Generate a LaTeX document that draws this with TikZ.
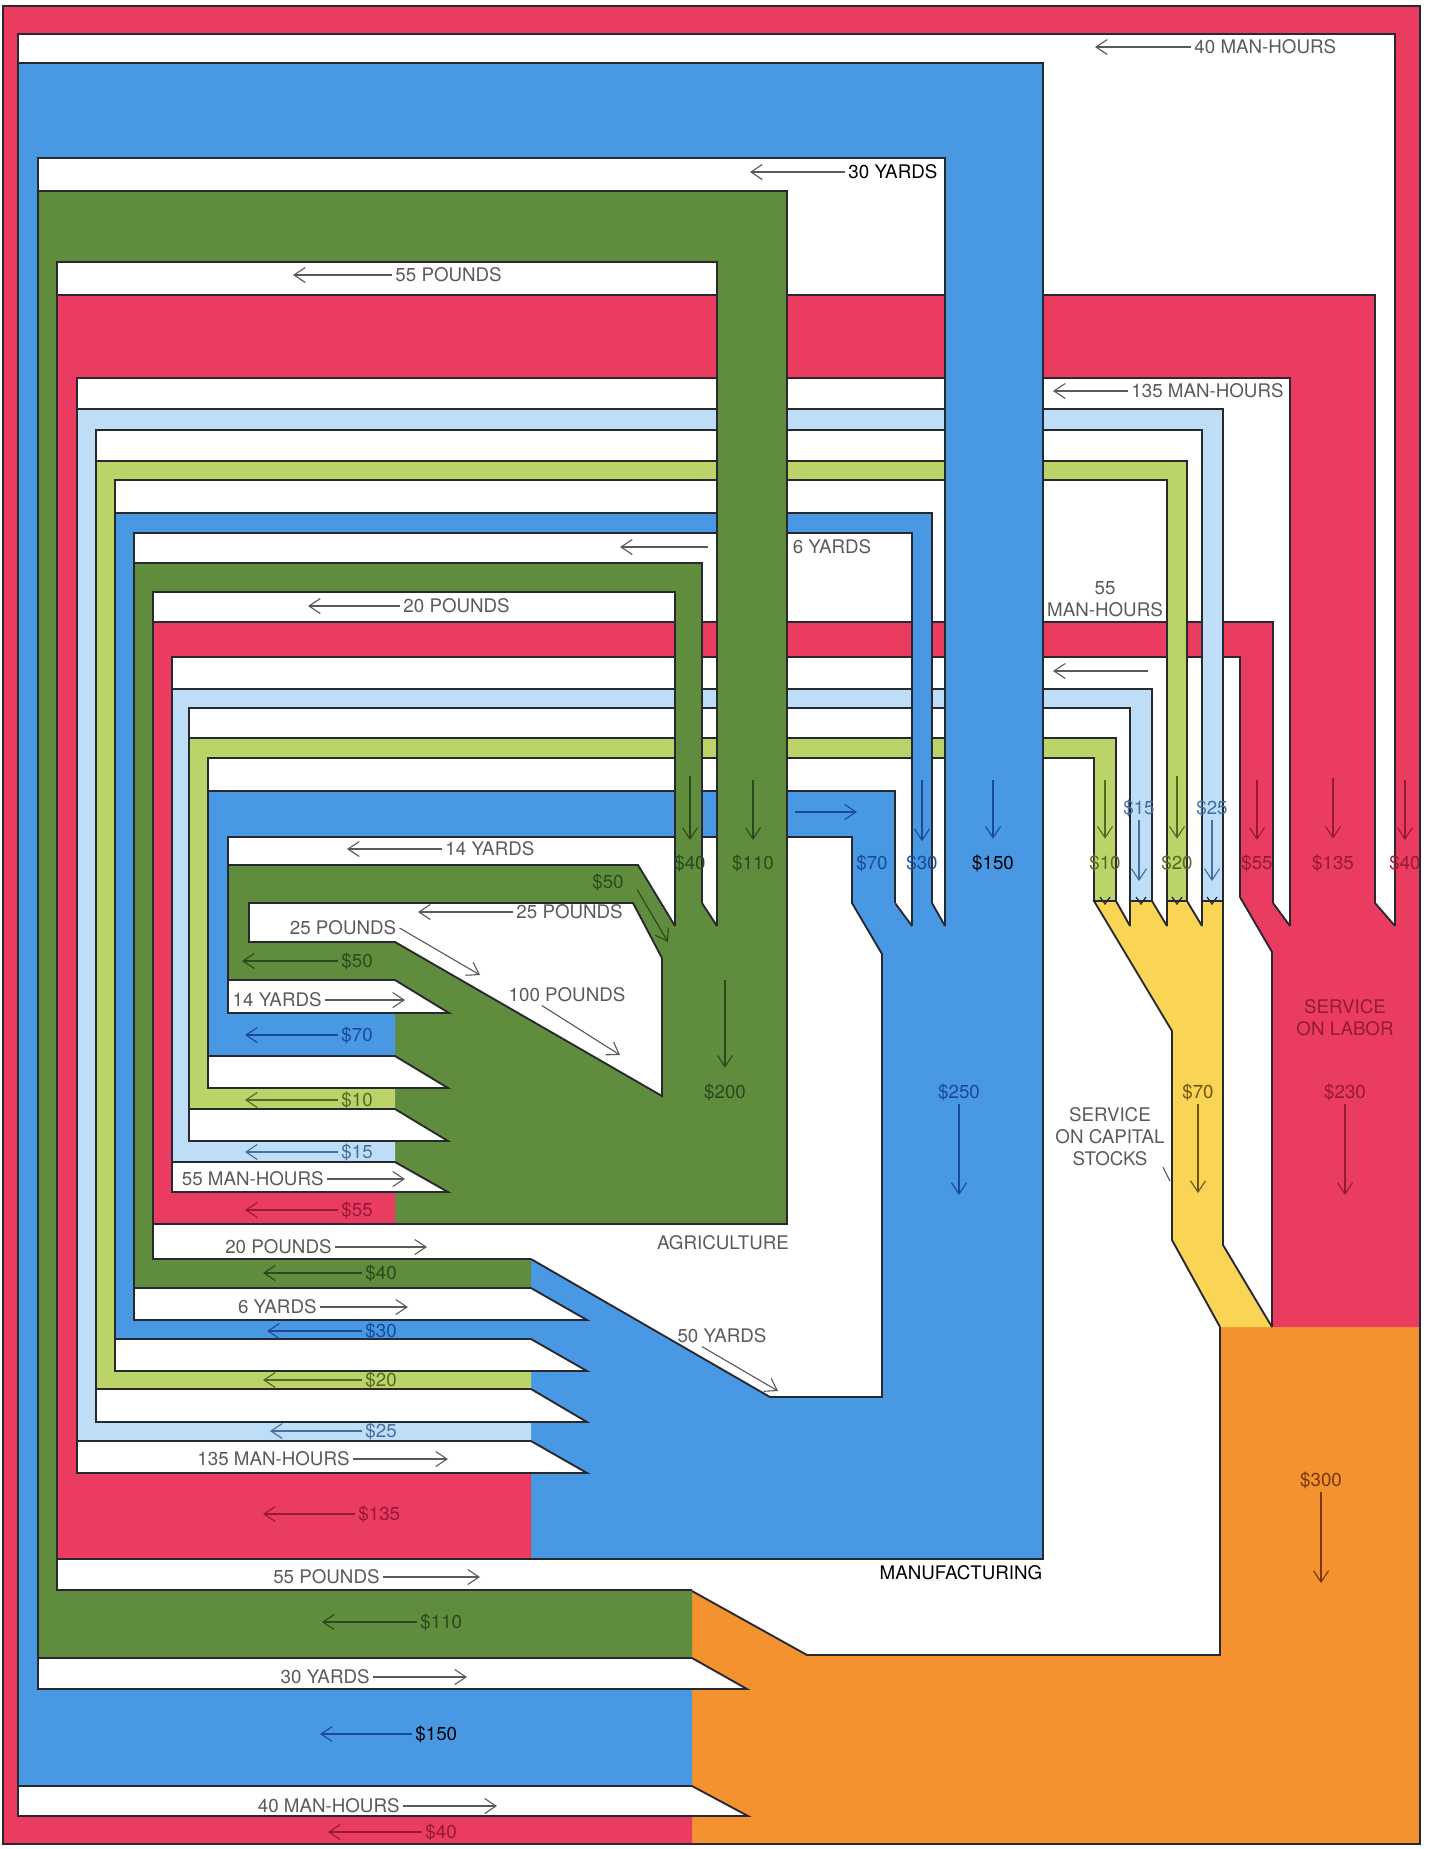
\documentclass[tikz,border=0pt]{standalone}
\usepackage{fontspec}
\setmainfont{TeX Gyre Heros}
\usepackage{tikz}
\usetikzlibrary{arrows.meta}
\tikzset{every picture/.style={line width=0.75pt}}

\definecolor{bandred}{RGB}{234,60,96}
\definecolor{bandblue}{RGB}{72,152,228}
\definecolor{bandgreen}{RGB}{96,140,62}
\definecolor{bandlblue}{RGB}{190,222,248}
\definecolor{bandlgreen}{RGB}{186,212,106}
\definecolor{bandyellow}{RGB}{250,212,84}
\definecolor{bandorange}{RGB}{244,146,48}
\definecolor{edgegray}{RGB}{40,40,48}
\definecolor{txtgray}{RGB}{90,90,90}
\definecolor{txtred}{RGB}{150,25,55}
\definecolor{txtblue}{RGB}{25,75,150}
\definecolor{txtgreen}{RGB}{40,75,30}
\definecolor{txtlblue}{RGB}{70,110,160}
\definecolor{txtlgreen}{RGB}{85,105,35}
\definecolor{txtyellow}{RGB}{110,85,20}
\definecolor{txtorange}{RGB}{120,55,10}

\tikzset{
  outline/.style={draw=edgegray, line width=0.75pt, line join=miter, miter limit=3},
  cutband/.style={fill=white, draw=edgegray, line width=0.75pt},
  tickmark/.style={draw=edgegray, line width=0.5pt},
  lbl/.style={font=\fontsize{7.5}{8.8}\selectfont, text=#1, inner sep=1pt},
  lbl/.default=txtgray,
  arr/.style={draw=#1, line width=0.45pt, -{Straight Barb[length=4.5pt,width=6pt]}},
  arr/.default=txtgray,
}

\begin{document}
\begin{tikzpicture}[x=0.4pt,y=-0.4pt]
\useasboundingbox (0,0) rectangle (1432,1849);

%Shape: households (orange)
\fill[bandorange] (692,1591) -- (807,1655) -- (1220,1655) -- (1220,1327) -- (1420,1327) -- (1420,1844) -- (692,1844) -- cycle ;
\draw[outline] (692,1591) -- (807,1655) -- (1220,1655) -- (1220,1327) ;
\draw[outline] (1420,1327) -- (1420,1844) -- (692,1844) ;

%Shape: service on capital stocks (yellow)
\filldraw[fill=bandyellow, outline] (1220,1327) -- (1172,1240) -- (1172,1031) -- (1094,901) -- (1116,901) -- (1130,926) -- (1130,901) -- (1152,901) -- (1167,926) -- (1167,901) -- (1187,901) -- (1202,926) -- (1202,901) -- (1223,901) -- (1223,1245) -- (1272,1327) ;

%Shape: service on labor (red)
\fill[bandred] (1240,897) -- (1273,897) -- (1273,903) -- (1290,926) -- (1290,897) -- (1375,897) -- (1375,903) -- (1395,926) -- (1395,897) -- (1420,897) -- (1420,1327) -- (1272,1327) -- (1272,952) -- cycle ;
\draw[outline] (1273,903) -- (1290,926) ;
\draw[outline] (1375,903) -- (1395,926) ;

%Shape: manufacturing (blue)
\fill[bandblue] (852,897) -- (895,897) -- (895,903) -- (912,926) -- (912,897) -- (932,897) -- (932,903) -- (945,926) -- (945,897) -- (1043,897) -- (1043,1559) -- (531,1559) -- (531,1259) -- (770,1397) -- (882,1397) -- (882,954) -- (852,903) -- cycle ;
\draw[outline] (895,903) -- (912,926) ;
\draw[outline] (932,903) -- (945,926) ;
\draw[outline] (1043,990) -- (1043,1559) -- (531,1559) ;

%Shape: agriculture (green) with the 25/100 pounds hole
\fill[bandgreen, even odd rule] (228,865) -- (638,865) -- (675,926) -- (675,897) -- (702,897) -- (702,903) -- (717,926) -- (717,897) -- (787,897) -- (787,1224) -- (395,1224) -- (395,980) -- (228,980) -- cycle
  (249,903) -- (633,903) -- (662,958) -- (662,1096) -- (395,942) -- (249,942) -- cycle ;
\draw[outline] (675,926) -- (638,865) -- (228,865) -- (228,980) -- (395,980) ;
\draw[outline] (249,903) -- (633,903) -- (662,958) -- (662,1096) -- (395,942) -- (249,942) -- cycle ;
\draw[outline] (702,903) -- (717,926) ;
\draw[outline] (787,990) -- (787,1224) -- (395,1224) ;

%Shape: $70 band (blue)
\fill[bandblue] (395,1056) -- (208,1056) -- (208,791) -- (895,791) -- (895,905) -- (852,905) -- (852,837) -- (228,837) -- (228,1013) -- (395,1013) -- cycle ;
\draw[outline] (395,1056) -- (208,1056) -- (208,791) -- (895,791) -- (895,903) ;
\draw[outline] (395,1013) -- (228,1013) -- (228,837) -- (852,837) -- (852,903) -- (882,954) -- (882,1397) -- (770,1397) -- (531,1259) ;

%Shape: $10 band (light green)
\filldraw[fill=bandlgreen, outline] (395,1109) -- (189,1109) -- (189,738) -- (1116,738) -- (1116,901) -- (1094,901) -- (1094,758) -- (208,758) -- (208,1088) -- (395,1088) ;

%Shape: $15 band (light blue)
\filldraw[fill=bandlblue, outline] (395,1162) -- (172,1162) -- (172,689) -- (1152,689) -- (1152,901) -- (1130,901) -- (1130,708) -- (189,708) -- (189,1141) -- (395,1141) ;

%Shape: $55 band (red)
\fill[bandred] (395,1224) -- (153,1224) -- (153,622) -- (1273,622) -- (1273,900) -- (1240,900) -- (1240,657) -- (172,657) -- (172,1192) -- (395,1192) -- cycle ;
\draw[outline] (395,1224) -- (153,1224) -- (153,622) -- (1273,622) -- (1273,903) ;
\draw[outline] (395,1192) -- (172,1192) -- (172,657) -- (1240,657) -- (1240,897) -- (1272,952) -- (1272,1327) ;

%Shape: $40 band (green)
\fill[bandgreen] (531,1288) -- (134,1288) -- (134,563) -- (702,563) -- (702,900) -- (675,900) -- (675,592) -- (153,592) -- (153,1259) -- (531,1259) -- cycle ;
\draw[outline] (531,1288) -- (134,1288) -- (134,563) -- (702,563) -- (702,903) ;
\draw[outline] (531,1259) -- (153,1259) -- (153,592) -- (675,592) -- (675,926) ;

%Shape: $30 band (blue)
\fill[bandblue] (540,1339) -- (115,1339) -- (115,513) -- (932,513) -- (932,900) -- (912,900) -- (912,533) -- (134,533) -- (134,1320) -- (540,1320) -- cycle ;
\draw[outline] (531,1339) -- (115,1339) -- (115,513) -- (932,513) -- (932,903) ;
\draw[outline] (531,1320) -- (134,1320) -- (134,533) -- (912,533) -- (912,926) ;

%Shape: $20 band (light green)
\filldraw[fill=bandlgreen, outline] (531,1389) -- (96,1389) -- (96,461) -- (1187,461) -- (1187,901) -- (1167,901) -- (1167,480) -- (115,480) -- (115,1371) -- (531,1371) ;

%Shape: $25 band (light blue)
\filldraw[fill=bandlblue, outline] (531,1441) -- (77,1441) -- (77,409) -- (1223,409) -- (1223,901) -- (1202,901) -- (1202,430) -- (96,430) -- (96,1422) -- (531,1422) ;

%Shape: $135 band (red)
\fill[bandred] (531,1559) -- (57,1559) -- (57,295) -- (1375,295) -- (1375,900) -- (1290,900) -- (1290,378) -- (77,378) -- (77,1473) -- (531,1473) -- cycle ;
\draw[outline] (531,1559) -- (57,1559) -- (57,295) -- (1375,295) -- (1375,903) ;
\draw[outline] (531,1473) -- (77,1473) -- (77,378) -- (1290,378) -- (1290,926) ;

%Shape: $110 band (green)
\fill[bandgreen] (692,1658) -- (38,1658) -- (38,191) -- (787,191) -- (787,900) -- (717,900) -- (717,262) -- (57,262) -- (57,1590) -- (692,1590) -- cycle ;
\draw[outline] (692,1658) -- (38,1658) -- (38,191) -- (787,191) -- (787,990) ;
\draw[outline] (692,1590) -- (57,1590) -- (57,262) -- (717,262) -- (717,926) ;

%Shape: $150 band (blue)
\fill[bandblue] (692,1786) -- (18,1786) -- (18,63) -- (1043,63) -- (1043,900) -- (945,900) -- (945,158) -- (38,158) -- (38,1689) -- (692,1689) -- cycle ;
\draw[outline] (692,1786) -- (18,1786) -- (18,63) -- (1043,63) -- (1043,990) ;
\draw[outline] (692,1689) -- (38,1689) -- (38,158) -- (945,158) -- (945,926) ;

%Shape: $40 band (red, outer)
\fill[bandred] (692,1844) -- (3,1844) -- (3,6) -- (1420,6) -- (1420,900) -- (1395,900) -- (1395,34) -- (18,34) -- (18,1816) -- (692,1816) -- cycle ;
\draw[outline] (692,1844) -- (3,1844) -- (3,6) -- (1420,6) -- (1420,1327) ;
\draw[outline] (692,1816) -- (18,1816) -- (18,34) -- (1395,34) -- (1395,926) ;

%Shape: slanted ends of the goods and labor bands
\filldraw[cutband] (395,980) -- (449,1013) -- (395,1013) ;
\filldraw[cutband] (395,1056) -- (448,1088) -- (395,1088) ;
\filldraw[cutband] (395,1109) -- (448,1141) -- (395,1141) ;
\filldraw[cutband] (395,1162) -- (448,1192) -- (395,1192) ;
\filldraw[cutband] (531,1288) -- (587,1320) -- (531,1320) ;
\filldraw[cutband] (531,1339) -- (587,1371) -- (531,1371) ;
\filldraw[cutband] (531,1389) -- (587,1422) -- (531,1422) ;
\filldraw[cutband] (531,1441) -- (587,1473) -- (531,1473) ;
\filldraw[cutband] (692,1658) -- (747,1689) -- (692,1689) ;
\filldraw[cutband] (692,1786) -- (748,1816) -- (692,1816) ;

%Straight Lines: ticks where capital payments join
\draw[tickmark] (1100,897) -- (1105,904) -- (1110,897) ;
\draw[tickmark] (1136,897) -- (1141,904) -- (1146,897) ;
\draw[tickmark] (1172,897) -- (1177,904) -- (1182,897) ;
\draw[tickmark] (1207,897) -- (1212,904) -- (1217,897) ;

%Text: physical flows, upper half
\node[lbl, anchor=west] (mh40t) at (1191,47) {40 MAN-HOURS};
\draw[arr] (mh40t.west) -- (1095,47);
\node[lbl=black, anchor=west] (yd30t) at (845,172) {30 YARDS};
\draw[arr] (yd30t.west) -- (750,172);
\node[lbl, anchor=west] (lb55t) at (392,275) {55 POUNDS};
\draw[arr] (lb55t.west) -- (293,275);
\node[lbl, anchor=west] (mh135t) at (1128,391) {135 MAN-HOURS};
\draw[arr] (mh135t.west) -- (1053,391);
\node[lbl] (yd6t) at (832,547) {6 YARDS};
\coordinate (yd6s) at (708,547);
\draw[arr] (yd6s) -- (620,547);
\node[lbl, anchor=west] (lb20t) at (400,606) {20 POUNDS};
\draw[arr] (lb20t.west) -- (308,606);
\node[lbl, align=center] (mh55t) at (1105,599) {55\\MAN-HOURS};
\coordinate (mh55s) at (1148,671);
\draw[arr] (mh55s) -- (1053,671);
\node[lbl, anchor=west] (yd14t) at (442,849) {14 YARDS};
\draw[arr] (yd14t.west) -- (347,849);
\node[lbl, anchor=west] (lb25t) at (513,912) {25 POUNDS};
\draw[arr] (lb25t.west) -- (418,912);
\node[lbl] (lb25s) at (343,928) {25 POUNDS};
\draw[arr] (lb25s.east) -- (480,975);
\node[lbl] (lb100) at (567,995) {100 POUNDS};
\draw[arr] ([xshift=-10pt]lb100.south) -- (620,1055);
\node[lbl] (yd50) at (722,1336) {50 YARDS};
\draw[arr] ([xshift=-8pt]yd50.south) -- (778,1391);

%Text: physical flows, lower half
\node[lbl, anchor=east] (yd14b) at (325,1000) {14 YARDS};
\draw[arr] (yd14b.east) -- (405,1000);
\node[lbl, anchor=east] (mh55b) at (327,1179) {55 MAN-HOURS};
\draw[arr] (mh55b.east) -- (405,1179);
\node[lbl, anchor=east] (lb20b) at (335,1247) {20 POUNDS};
\draw[arr] (lb20b.east) -- (427,1247);
\node[lbl, anchor=east] (yd6b) at (320,1307) {6 YARDS};
\draw[arr] (yd6b.east) -- (408,1307);
\node[lbl, anchor=east] (mh135b) at (353,1459) {135 MAN-HOURS};
\draw[arr] (mh135b.east) -- (448,1459);
\node[lbl, anchor=east] (lb55b) at (383,1577) {55 POUNDS};
\draw[arr] (lb55b.east) -- (480,1577);
\node[lbl, anchor=east] (yd30b) at (373,1677) {30 YARDS};
\draw[arr] (yd30b.east) -- (467,1677);
\node[lbl, anchor=east] (mh40b) at (403,1806) {40 MAN-HOURS};
\draw[arr] (mh40b.east) -- (497,1806);

%Text: money flows on the left
\node[lbl=txtgreen, anchor=west] (d50b) at (338,961) {\$50};
\draw[arr=txtgreen] (d50b.west) -- (242,961);
\node[lbl=txtblue, anchor=west] (d70b) at (338,1035) {\$70};
\draw[arr=txtblue] (d70b.west) -- (245,1035);
\node[lbl=txtlgreen, anchor=west] (d10b) at (338,1100) {\$10};
\draw[arr=txtlgreen] (d10b.west) -- (245,1100);
\node[lbl=txtlblue, anchor=west] (d15b) at (338,1152) {\$15};
\draw[arr=txtlblue] (d15b.west) -- (245,1152);
\node[lbl=txtred, anchor=west] (d55b) at (338,1210) {\$55};
\draw[arr=txtred] (d55b.west) -- (245,1210);
\node[lbl=txtgreen, anchor=west] (d40gb) at (362,1273) {\$40};
\draw[arr=txtgreen] (d40gb.west) -- (263,1273);
\node[lbl=txtblue, anchor=west] (d30b) at (362,1331) {\$30};
\draw[arr=txtblue] (d30b.west) -- (267,1331);
\node[lbl=txtlgreen, anchor=west] (d20b) at (362,1380) {\$20};
\draw[arr=txtlgreen] (d20b.west) -- (263,1380);
\node[lbl=txtlblue, anchor=west] (d25b) at (362,1431) {\$25};
\draw[arr=txtlblue] (d25b.west) -- (270,1431);
\node[lbl=txtred, anchor=west] (d135b) at (355,1514) {\$135};
\draw[arr=txtred] (d135b.west) -- (263,1514);
\node[lbl=txtgreen, anchor=west] (d110b) at (417,1622) {\$110};
\draw[arr=txtgreen] (d110b.west) -- (322,1622);
\node[lbl=black, anchor=west] (d150b) at (412,1734) {\$150};
\draw[arr=txtblue] (d150b.west) -- (320,1734);
\node[lbl=txtred, anchor=west] (d40rb) at (422,1832) {\$40};
\draw[arr=txtred] (d40rb.west) -- (328,1832);

%Text: money flows in the columns
\node[lbl=txtgreen] (d50t) at (608,882) {\$50};
\draw[arr=txtgreen] ([xshift=4pt,yshift=-3pt]d50t.east) -- (668,942);
\node[lbl=txtgreen] (d40gt) at (690,863) {\$40};
\draw[arr=txtgreen, shorten >=4.5pt] (690,776) -- (d40gt.north);
\node[lbl=txtgreen] (d110t) at (753,863) {\$110};
\draw[arr=txtgreen, shorten >=4.5pt] (753,780) -- (d110t.north);
\node[lbl=txtgreen] (d200) at (725,1092) {\$200};
\draw[arr=txtgreen, shorten >=5pt] (725,980) -- (d200.north);
\node[lbl=txtblue] (d70t) at (872,863) {\$70};
\coordinate (d70s) at (795,812);
\draw[arr=txtblue] (d70s) -- (857,812);
\node[lbl=txtblue] (d30t) at (922,863) {\$30};
\draw[arr=txtblue, shorten >=4pt] (922,780) -- (d30t.north);
\node[lbl=black] (d150t) at (993,863) {\$150};
\draw[arr=txtblue, shorten >=5pt] (993,780) -- (d150t.north);
\node[lbl=txtblue] (d250) at (959,1092) {\$250};
\draw[arr=txtblue] (d250.south) -- (959,1195);
\node[lbl=txtlgreen] (d10t) at (1105,863) {\$10};
\draw[arr=txtlgreen, shorten >=5pt] (1105,780) -- (d10t.north);
\node[lbl=txtlblue] (d15t) at (1139,808) {\$15};
\draw[arr=txtlblue] (d15t.south) -- (1139,881);
\node[lbl=txtlgreen] (d20t) at (1177,863) {\$20};
\draw[arr=txtlgreen, shorten >=5pt] (1177,776) -- (d20t.north);
\node[lbl=txtlblue] (d25t) at (1212,808) {\$25};
\draw[arr=txtlblue] (d25t.south) -- (1212,881);
\node[lbl=txtred] (d55t) at (1257,863) {\$55};
\draw[arr=txtred, shorten >=4.5pt] (1257,780) -- (d55t.north);
\node[lbl=txtred] (d135t) at (1333,863) {\$135};
\draw[arr=txtred, shorten >=5pt] (1333,778) -- (d135t.north);
\node[lbl=txtred] (d40rt) at (1405,863) {\$40};
\draw[arr=txtred, shorten >=4.5pt] (1405,780) -- (d40rt.north);
\node[lbl=txtyellow] (d70y) at (1198,1092) {\$70};
\draw[arr=txtyellow] (d70y.south) -- (1198,1193);
\node[lbl=txtred] (d230) at (1345,1092) {\$230};
\draw[arr=txtred] (d230.south) -- (1345,1195);
\node[lbl=txtorange] (d300) at (1321,1480) {\$300};
\draw[arr=txtorange] (d300.south) -- (1321,1583);

%Text: sector names
\node[lbl=txtred, align=center] (svclab) at (1345,1018) {SERVICE\\ON LABOR};
\node[lbl, align=center] (svccap) at (1110,1137) {SERVICE\\ON CAPITAL\\STOCKS};
\coordinate (svccapend) at (1170,1181);
\draw[txtgray, line width=0.45pt] ([xshift=-2pt,yshift=1pt]svccap.south east) -- (svccapend);
\node[lbl] (agri) at (723,1243) {AGRICULTURE};
\node[lbl=black] (manu) at (961,1573) {MANUFACTURING};
\end{tikzpicture}
\end{document}
